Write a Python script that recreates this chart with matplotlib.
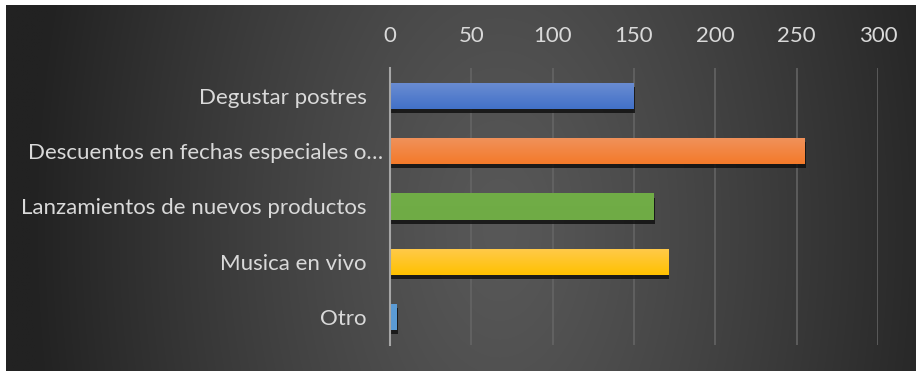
import numpy as np
import matplotlib
matplotlib.use("Agg")
import matplotlib.pyplot as plt
from matplotlib.patheffects import SimplePatchShadow, Normal
from matplotlib.transforms import ScaledTranslation

plt.rcParams['font.family'] = ['Lato', 'DejaVu Sans']

categories = [
    "Degustar postres",
    "Descuentos en fechas especiales o\u2026",
    "Lanzamientos de nuevos productos",
    "Musica en vivo",
    "Otro",
]
values = [150, 255, 162, 171, 4]
x_ticks = [0, 50, 100, 150, 200, 250, 300]
bar_top_colors = ["#6b8dd2", "#f0925c", "#71ad47", "#ffca4c", "#5b9bd5"]
bar_bottom_colors = ["#4271c8", "#f47a2a", "#6fab45", "#ffc100", "#5b9bd5"]

W, H, DPI = 916, 371, 100
fig = plt.figure(figsize=(W / DPI, H / DPI), dpi=DPI)
fig.patch.set_facecolor("white")

# dark radial background (chart area starts a few pixels in from top/left)
bg = fig.add_axes([6 / W, 0, 1 - 6 / W, 1 - 5 / H])
bg.set_axis_off()
gx = np.linspace(6, W, 600)
gy = np.linspace(5, H, 250)
X, Y = np.meshgrid(gx, gy)
d = np.sqrt(((X - 500) / 470) ** 2 + ((Y - 230) / 800) ** 2)
d = np.clip(d, 0, 1)
shade = (0x58 - (0x58 - 0x22) * d ** 1.2) / 255.0
bg.imshow(np.dstack([shade, shade, shade]), aspect="auto",
          extent=[0, 1, 0, 1], interpolation="bilinear")
bg.set_xlim(0, 1)
bg.set_ylim(0, 1)

# main plot
left, right = 390 / W, 878 / W
top, bottom = 1 - 68 / H, 1 - 345 / H
ax = fig.add_axes([left, bottom, right - left, top - bottom])
ax.patch.set_alpha(0)

ypos = np.arange(len(categories))
bars = ax.barh(ypos, values, height=0.47, color=bar_bottom_colors, zorder=3,
               linewidth=0)
for bar, c_top, c_bot in zip(bars, bar_top_colors, bar_bottom_colors):
    bar.set_path_effects([SimplePatchShadow(offset=(0.8, -3.0),
                                            shadow_rgbFace="#111111",
                                            alpha=0.85), Normal()])
    ct = np.array(matplotlib.colors.to_rgb(c_top))
    cb = np.array(matplotlib.colors.to_rgb(c_bot))
    t = np.linspace(0, 1, 64)[:, None]
    grad = (ct * (1 - t) + cb * t)[:, None, :]
    x0, y0 = bar.get_x(), bar.get_y()
    w, h = bar.get_width(), bar.get_height()
    im = ax.imshow(grad, aspect="auto", extent=[x0, x0 + w, y0 + h, y0],
                   zorder=4, interpolation="bilinear")
    im.set_clip_path(bar)

ax.set_xlim(0, 300)
ax.set_ylim(len(categories) - 0.5, -0.5)
ax.set_xticks(x_ticks)
ax.set_xticklabels([str(v) for v in x_ticks])
ax.xaxis.tick_top()
ax.set_yticks(ypos)
ax.set_yticklabels(categories)

ax.grid(axis="x", color="#666666", linewidth=1.1, zorder=0)
ax.tick_params(axis="both", length=0, labelcolor="#d9d9d9", labelsize=16)
ax.tick_params(axis="x", pad=16)
ax.tick_params(axis="y", pad=17)
for s in ["top", "right", "bottom"]:
    ax.spines[s].set_visible(False)
ax.spines["left"].set_color("#a6a6a6")
ax.spines["left"].set_linewidth(1.5)
ax.spines["left"].set_zorder(5)

# the truncated label sits closer to the axis
lbl = ax.get_yticklabels()[1]
lbl.set_transform(lbl.get_transform() + ScaledTranslation(12 / 72, 0, fig.dpi_scale_trans))

fig.savefig("out.png", dpi=DPI)
